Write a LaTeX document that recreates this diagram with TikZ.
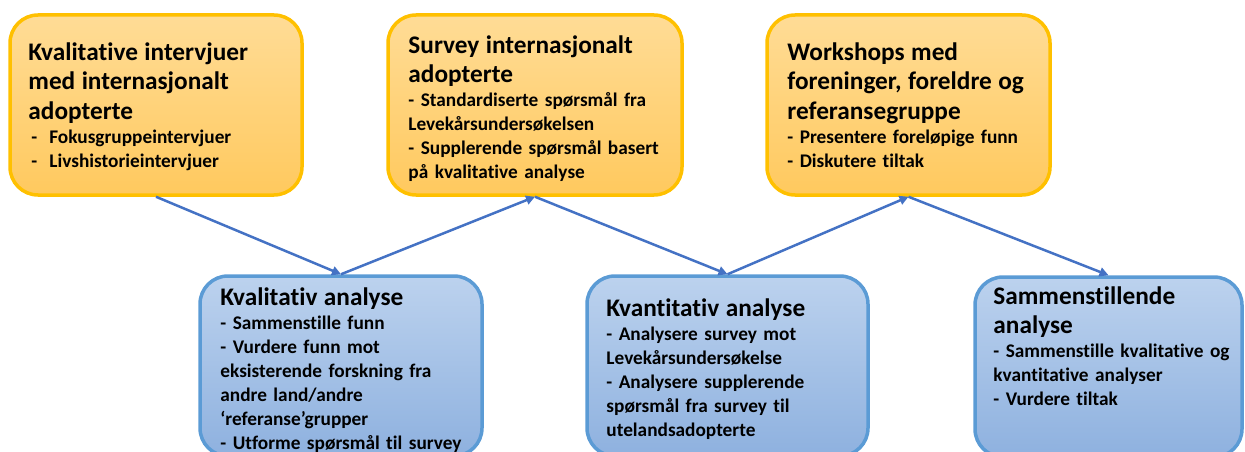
\documentclass[tikz,border=0pt]{standalone}
\usepackage{fontspec}
\setmainfont{Carlito}[Ligatures=NoCommon]
\usetikzlibrary{arrows.meta, positioning}

\definecolor{gulkant}{HTML}{FFC000}
\definecolor{gultopp}{HTML}{FFDC96}
\definecolor{gulbunn}{HTML}{FFC95E}
\definecolor{blaakant}{HTML}{5B9BD5}
\definecolor{blaatopp}{HTML}{BCD2EE}
\definecolor{blaabunn}{HTML}{8EB1DF}
\definecolor{pilfarge}{HTML}{4472C4}

\begin{document}
\begin{tikzpicture}[
    x=1pt, y=-1pt,
    boks/.style={rectangle, rounded corners=28pt, line width=3.5pt, minimum height=180pt},
    gulboks/.style={boks, draw=gulkant, top color=gultopp, bottom color=gulbunn},
    blaaboks/.style={boks, draw=blaakant, top color=blaatopp, bottom color=blaabunn},
    tekst/.style={inner sep=0pt, text width=300pt, align=left,
        font=\bfseries\fontsize{19.3}{24}\selectfont},
    pil/.style={draw=pilfarge, line width=2.5pt, -{Triangle[length=9pt,width=9pt]}},
]
\useasboundingbox (0,0) rectangle (1245,452);

% Datainnsamling
\node[gulboks, minimum width=292pt] (intervjuer) at (156,105) {};
\node[gulboks, minimum width=294pt] (survey) at (535,105) {};
\node[gulboks, minimum width=283pt] (workshop) at (908.5,105) {};
% Analyse
\node[blaaboks, minimum width=282pt] (kvalitativ) at (341,366) {};
\node[blaaboks, minimum width=281pt] (kvantitativ) at (727.5,366) {};
\node[blaaboks, minimum width=267pt] (sammenstilling) at (1108.5,367) {};

% Tekst i boksene
\node[tekst, below right=29pt and 20pt of intervjuer.north west] (intervjuer-tekst) {%
    {\fontsize{25.3}{29.5}\selectfont Kvalitative intervjuer\\ med internasjonalt\\ adopterte\par}
    \hspace*{3pt}-\hspace{12pt}Fokusgruppeintervjuer\\
    \hspace*{3pt}-\hspace{12pt}Livshistorieintervjuer};
\node[tekst, below right=22pt and 22pt of survey.north west] (survey-tekst) {%
    {\fontsize{25.3}{29.5}\selectfont Survey internasjonalt\\ adopterte\par}
    - Standardiserte spørsmål fra\\ Levekårsundersøkelsen\\
    - Supplerende spørsmål basert\\ på kvalitative analyse};
\node[tekst, below right=29pt and 22pt of workshop.north west] (workshop-tekst) {%
    {\fontsize{25.3}{29.5}\selectfont Workshops med\\ foreninger, foreldre og\\ referansegruppe\par}
    - Presentere foreløpige funn\\
    - Diskutere tiltak};
\node[tekst, below right=13pt and 22pt of kvalitativ.north west] (kvalitativ-tekst) {%
    {\fontsize{25.3}{29.5}\selectfont Kvalitativ analyse\par}
    - Sammenstille funn\\
    - Vurdere funn mot\\ eksisterende forskning fra\\ andre land/andre\\ ‘referanse’grupper\\
    - Utforme spørsmål til survey};
\node[tekst, below right=24pt and 21pt of kvantitativ.north west] (kvantitativ-tekst) {%
    {\fontsize{25.3}{29.5}\selectfont Kvantitativ analyse\par}
    - Analysere survey mot\\ Levekårsundersøkelse\\
    - Analysere supplerende\\ spørsmål fra survey til\\ utelandsadopterte};
\node[tekst, below right=11pt and 20pt of sammenstilling.north west] (sammenstilling-tekst) {%
    {\fontsize{25.3}{29.5}\selectfont Sammenstillende\\ analyse\par}
    - Sammenstille kvalitative og\\ kvantitative analyser\\
    - Vurdere tiltak};

% Piler
\draw[pil] (intervjuer.south) -- (kvalitativ.north);
\draw[pil] (kvalitativ.north) -- (survey.south);
\draw[pil] (survey.south) -- (kvantitativ.north);
\draw[pil] (kvantitativ.north) -- (workshop.south);
\draw[pil] (workshop.south) -- (sammenstilling.north);
\end{tikzpicture}
\end{document}
